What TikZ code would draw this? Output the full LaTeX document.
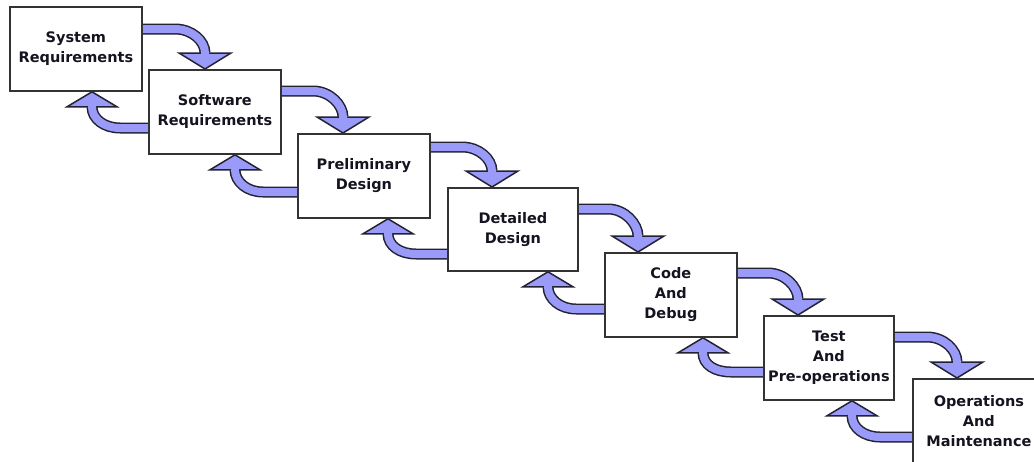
\documentclass[tikz,border=0pt]{standalone}
\usepackage{fontspec}
\newfontfamily\stagefont{DejaVu Sans}
\usetikzlibrary{calc,backgrounds}

\definecolor{boxline}{HTML}{333333}
\definecolor{arrowline}{HTML}{222233}
\definecolor{arrowfill}{HTML}{9A9AF8}
\definecolor{stagetext}{HTML}{141420}

\tikzset{
  stagebox/.style={draw=boxline, line width=1.8pt, fill=white,
    minimum width=132pt, minimum height=84pt, anchor=north west,
    align=center, inner sep=0pt, text=stagetext,
    font={\stagefont\bfseries\fontsize{14.5}{20}\selectfont}},
  shaftout/.style={draw=arrowline, line width=11pt},
  shaftin/.style={draw=arrowfill, line width=8pt},
  headtip/.style={fill=arrowfill, draw=arrowline, line width=1.5pt, line join=miter},
}

% forward arrow: from the right side of #1 (offset #3 below its top)
% curving down onto the top of #2 (tip #4 right of its left side)
\newcommand\fwdarrow[4]{%
  \coordinate (s) at ($(#1.north east)+(0,#3)$);
  \coordinate (t) at ($(#2.north west)+(#4,0)$);
  \coordinate (h) at ($(t)+(0,-16)$);
  \path[shaftout] (s) -- ($(s -| t)+(-30,0)$)
     .. controls ($(s -| t)+(-13,0)$) and ($(h)+(0,-12)$) .. (h);
  \path[headtip] (t) -- ($(h)+(-26,0)$) -- ($(h)+(26,0)$) -- cycle;
  \path[shaftin] (s) -- ($(s -| t)+(-30,0)$)
     .. controls ($(s -| t)+(-13,0)$) and ($(h)+(0,-12)$) .. (h) -- ++(0,2.5);
}
% feedback arrow: from the left side of #1 (offset #3 below its top)
% curving up onto the bottom of #2 (tip #4 right of its left side)
\newcommand\backarrow[4]{%
  \coordinate (s) at ($(#1.north west)+(0,#3)$);
  \coordinate (t) at ($(#2.south west)+(#4,0)$);
  \coordinate (h) at ($(t)+(0,15)$);
  \path[shaftout] (s) -- ($(s -| t)+(28,0)$)
     .. controls ($(s -| t)+(12,0)$) and ($(h)+(0,12)$) .. (h);
  \path[headtip] (t) -- ($(h)+(-25,0)$) -- ($(h)+(25,0)$) -- cycle;
  \path[shaftin] (s) -- ($(s -| t)+(28,0)$)
     .. controls ($(s -| t)+(12,0)$) and ($(h)+(0,12)$) .. (h) -- ++(0,-2.5);
}

\begin{document}
\begin{tikzpicture}[x=1pt, y=-1pt]
  \useasboundingbox (0,0) rectangle (1034,461);
  \clip (0,0) rectangle (1034,461);

  \node[stagebox] (b1) at (9,6)     {System\\Requirements};
  \node[stagebox] (b2) at (148,69)  {Software\\Requirements};
  \node[stagebox] (b3) at (297,133) {Preliminary\\Design};
  \node[stagebox, minimum width=130pt, minimum height=83pt] (b4) at (447,187) {Detailed\\Design};
  \node[stagebox] (b5) at (604,252) {Code\\And\\Debug};
  \node[stagebox, minimum width=130pt] (b6) at (763,315) {Test\\And\\Pre-operations};
  \node[stagebox] (b7) at (912,378) {Operations\\And\\Maintenance};

  \begin{pgfonlayer}{background}
    \fwdarrow{b1}{b2}{23}{57}
    \fwdarrow{b2}{b3}{22}{46}
    \fwdarrow{b3}{b4}{14}{45}
    \fwdarrow{b4}{b5}{22}{34}
    \fwdarrow{b5}{b6}{21}{35}
    \fwdarrow{b6}{b7}{22}{45}

    \backarrow{b2}{b1}{59}{83}
    \backarrow{b3}{b2}{59}{87}
    \backarrow{b4}{b3}{67}{91}
    \backarrow{b5}{b4}{57}{101}
    \backarrow{b6}{b5}{57}{99}
    \backarrow{b7}{b6}{59}{89}
  \end{pgfonlayer}
\end{tikzpicture}
\end{document}
